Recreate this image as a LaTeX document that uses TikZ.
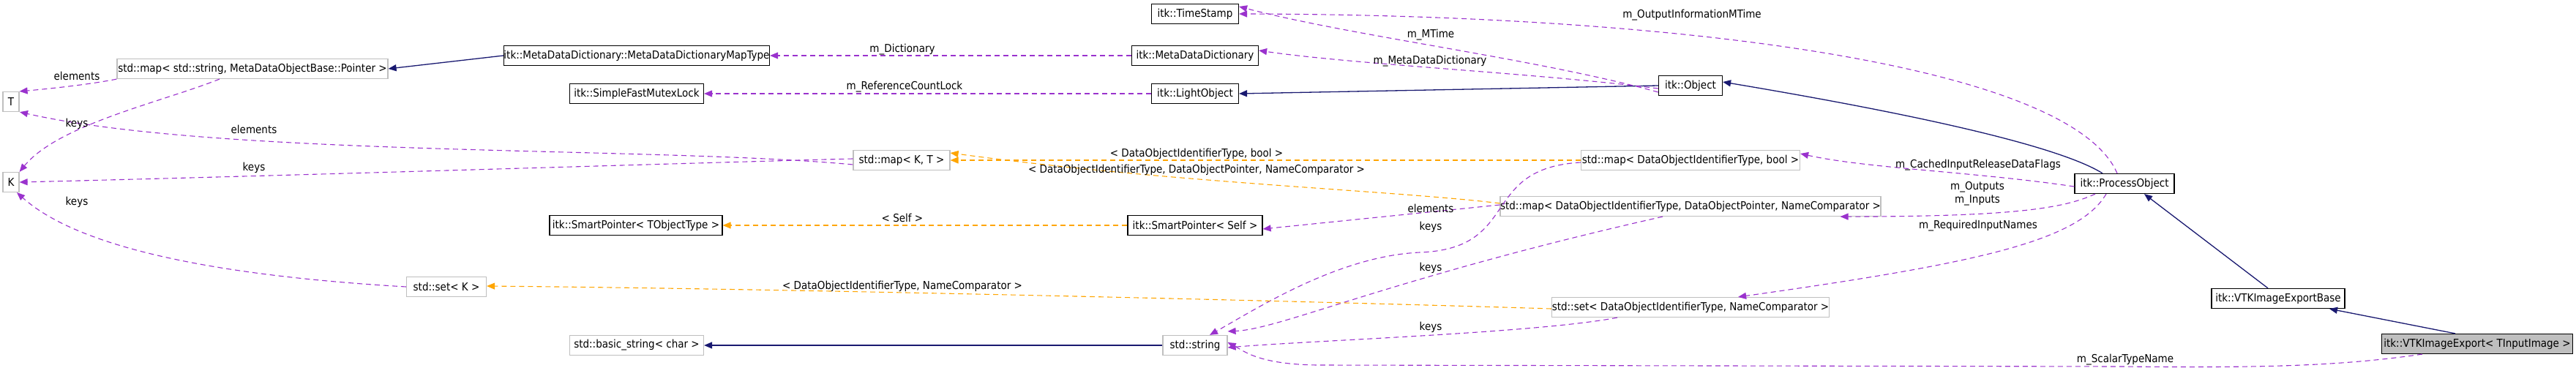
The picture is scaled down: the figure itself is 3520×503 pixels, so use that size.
\documentclass[tikz,border=0pt]{standalone}
\usepackage{fontspec}
\setmainfont{DejaVu Sans Condensed}
\usetikzlibrary{arrows.meta}
\definecolor{dpurple}{HTML}{9A32CD}
\definecolor{dorange}{HTML}{FFA500}
\definecolor{dnavy}{HTML}{191970}
\definecolor{dgray}{HTML}{BFBFBF}
\begin{document}
\begin{tikzpicture}[x=1pt,y=-1pt,
  every node/.style={font=\fontsize{15}{17}\selectfont, inner sep=0pt, text=black},
  box/.style={draw=black, line width=1.2pt, fill=white, minimum height=27pt},
  sbox/.style={draw=dgray, line width=1.2pt, fill=white, minimum height=27pt},
  mem/.style={dpurple, dash pattern=on 7pt off 5pt, line width=1.1pt, -{Triangle[length=11pt,width=9pt]}},
  tmpl/.style={dorange, dash pattern=on 7pt off 5pt, line width=1.1pt, -{Triangle[length=11pt,width=9pt]}},
  inh/.style={dnavy, line width=1.3pt, -{Triangle[length=11pt,width=9pt]}},
  lbl/.style={font=\fontsize{15}{17}\selectfont, text=black}]
\useasboundingbox (0,0) rectangle (3520,503);
% nodes
\node[sbox, minimum width=22pt] (T) at (15,139) {T};
\node[sbox, minimum width=22pt] (K) at (15,249) {K};
\node[sbox, minimum width=370pt] (mapS) at (345,94) {std::map< std::string, MetaDataObjectBase::Pointer >};
\node[box, minimum width=361pt] (mddmt) at (870,76) {itk::MetaDataDictionary::MetaDataDictionaryMapType};
\node[box, minimum width=183pt] (mutex) at (870,128) {itk::SimpleFastMutexLock};
\node[box, minimum width=236pt] (spT) at (869,308) {itk::SmartPointer< TObjectType >};
\node[sbox, minimum width=183pt] (bstr) at (870,472) {std::basic\_string< char >};
\node[sbox, minimum width=109pt] (setK) at (610,392) {std::set< K >};
\node[box, minimum width=119pt] (ts) at (1633,19) {itk::TimeStamp};
\node[box, minimum width=173pt] (mdd) at (1633,76) {itk::MetaDataDictionary};
\node[box, minimum width=119pt] (lo) at (1633,128) {itk::LightObject};
\node[sbox, minimum width=132pt] (mapKT) at (1232,219) {std::map< K, T >};
\node[box, minimum width=184pt] (spS) at (1633,308) {itk::SmartPointer< Self >};
\node[sbox, minimum width=88pt] (str) at (1633,472) {std::string};
\node[box, minimum width=87pt] (obj) at (2310,117) {itk::Object};
\node[sbox, minimum width=299pt] (mapB) at (2310,219) {std::map< DataObjectIdentifierType, bool >};
\node[sbox, minimum width=513pt] (mapD) at (2310,282) {std::map< DataObjectIdentifierType, DataObjectPointer, NameComparator >};
\node[sbox, minimum width=379pt] (setD) at (2310,420) {std::set< DataObjectIdentifierType, NameComparator >};
\node[box, minimum width=136pt] (po) at (2903,251) {itk::ProcessObject};
\node[box, minimum width=182pt] (vb) at (3113,408) {itk::VTKImageExportBase};
\node[box, minimum width=261pt, fill=dgray] (ve) at (3385,470) {itk::VTKImageExport< TInputImage >};
% inheritance
\draw[inh] (mddmt.west) -- (mapS.east);
\draw[inh] (str.west) -- (bstr.east);
\draw[inh] (obj.west) -- (lo.east);
\draw[inh] ([xshift=-30pt]po.north) .. controls (2830,210) and (2700,170) .. ([yshift=5pt]obj.east);
\draw[inh] ([xshift=-14pt]vb.north) -- ([xshift=27pt]po.south);
\draw[inh] ([xshift=-30pt]ve.north) -- ([xshift=70pt]vb.south);
% members
\draw[mem] (mapS.south west) .. controls (120,116) and (60,122) .. (T.north east);
\draw[mem] ([xshift=-45pt]mapS.south) .. controls (220,140) and (80,170) .. (K.north east);
\draw[mem] ([yshift=-6pt]mapKT.west) .. controls (900,200) and (300,215) .. ([xshift=12pt]T.south);
\draw[mem] ([yshift=2pt]mapKT.west) .. controls (900,224) and (400,240) .. (K.east);
\draw[mem] (setK.west) .. controls (350,380) and (120,350) .. ([xshift=8pt]K.south);
\draw[mem] (mdd.west) -- (mddmt.east);
\draw[mem] (lo.west) -- (mutex.east);
\draw[mem] ([yshift=-9pt]obj.west) .. controls (2100,80) and (1850,50) .. ([yshift=10pt]ts.east);
\draw[mem] ([yshift=-4pt]obj.west) .. controls (2100,100) and (1850,88) .. ([yshift=7pt]mdd.east);
\draw[mem] ([xshift=-10pt]po.north) .. controls (2830,90) and (2300,20) .. (ts.east);
\draw[mem] ([yshift=-4pt]po.west) .. controls (2700,235) and (2550,230) .. ([yshift=9pt]mapB.east);
\draw[mem] ([xshift=-40pt]po.south) .. controls (2820,285) and (2750,296) .. ([xshift=-56pt]mapD.south east);
\draw[mem] ([xshift=-25pt]po.south) .. controls (2840,330) and (2700,360) .. ([xshift=-125pt]setD.north east);
\draw[mem] ([yshift=2pt]mapD.west) -- ([yshift=-5pt]spS.east);
\draw[mem] ([yshift=-3pt]mapB.west) .. controls (2020,230) and (2080,340) .. (1940,345) .. controls (1830,350) and (1720,420) .. ([xshift=20pt]str.north);
\draw[mem] ([xshift=-38pt]mapD.south) .. controls (1900,380) and (1750,450) .. ([yshift=5pt]str.north east);
\draw[mem] ([xshift=-100pt]setD.south) .. controls (2100,455) and (1800,465) .. ([yshift=-3pt]str.east);
\draw[mem] ([xshift=-75pt]ve.south) .. controls (3200,500) and (3100,503) .. (2900,501) -- (1800,499) .. controls (1720,498) and (1700,480) .. ([yshift=4pt]str.east);
% templates
\draw[tmpl] (spS.west) -- (spT.east);
\draw[tmpl] (mapB.west) -- (mapKT.east);
\draw[tmpl] ([yshift=-10pt]mapD.north west) .. controls (1900,260) and (1600,250) .. ([yshift=10pt]mapKT.east);
\draw[tmpl] ([yshift=-2pt]setD.west) .. controls (1800,412) and (1100,395) .. ([yshift=1pt]setK.east);
% labels
\node[lbl] (l1) at (105,104) {elements};
\node[lbl] (l2) at (105,169) {keys};
\node[lbl] (l3) at (347,177) {elements};
\node[lbl] (l4) at (347,229) {keys};
\node[lbl] (l5) at (105,276) {keys};
\node[lbl] (l6) at (1233,68) {m\_Dictionary};
\node[lbl] (l7) at (1236,119) {m\_ReferenceCountLock};
\node[lbl] (l8) at (1233,298) {< Self >};
\node[lbl] (l9) at (1635,210) {< DataObjectIdentifierType, bool >};
\node[lbl] (l10) at (1635,232) {< DataObjectIdentifierType, DataObjectPointer, NameComparator >};
\node[lbl] (l11) at (1233,391) {< DataObjectIdentifierType, NameComparator >};
\node[lbl] (l12) at (1955,48) {m\_MTime};
\node[lbl] (l13) at (1954,84) {m\_MetaDataDictionary};
\node[lbl] (l14) at (2312,21) {m\_OutputInformationMTime};
\node[lbl] (l15) at (2703,226) {m\_CachedInputReleaseDataFlags};
\node[lbl, align=center] (l16) at (2702,265) {m\_Outputs\\[1pt]m\_Inputs};
\node[lbl] (l17) at (2703,309) {m\_RequiredInputNames};
\node[lbl] (l18) at (1955,285) {elements};
\node[lbl] (l19) at (1955,310) {keys};
\node[lbl] (l20) at (1955,366) {keys};
\node[lbl] (l21) at (1955,447) {keys};
\node[lbl] (l22) at (2904,492) {m\_ScalarTypeName};
\end{tikzpicture}
\end{document}
